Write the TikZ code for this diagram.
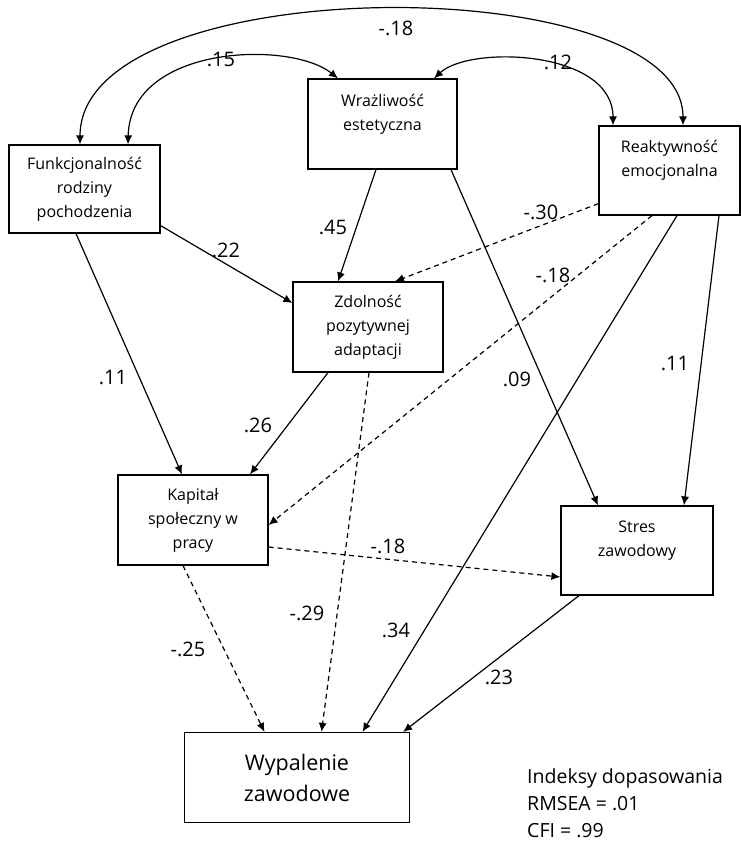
\documentclass[tikz,border=0pt]{standalone}
\usepackage{fontspec}
\setmainfont{Open Sans}
\usetikzlibrary{arrows.meta}

\tikzset{
  box/.style={draw, line width=1.2pt, align=center, inner sep=0pt, font=\fontsize{16}{24}\selectfont},
  arr/.style={line width=1.2pt, -{Latex[length=9pt,width=8pt]}},
  darr/.style={arr, dash pattern=on 5pt off 4pt},
  corr/.style={line width=1.2pt, {Latex[length=9pt,width=8pt]}-{Latex[length=9pt,width=8pt]}},
  coef/.style={font=\fontsize{20}{22}\selectfont, inner sep=0pt},
}

\begin{document}
\begin{tikzpicture}[x=1pt,y=1pt]
			%					\draw[help lines](0,0)grid(741,-846);
			\useasboundingbox (0,0) rectangle (741,-846);
			
			\node[box, minimum width=151pt, minimum height=88pt] (fam) at (84.5,-189) {Funkcjonalność\\rodziny\\pochodzenia};
			\node[box, minimum width=149pt, minimum height=90pt] (wra) at (382.5,-124) {Wrażliwość\\estetyczna\\\mbox{}};
			\node[box, minimum width=141pt, minimum height=89pt] (rea) at (669.5,-170.5) {Reaktywność\\emocjonalna\\\mbox{}};
			\node[box, minimum width=150pt, minimum height=90pt] (zdo) at (368,-327) {Zdolność\\pozytywnej\\adaptacji};
			\node[box, minimum width=150pt, minimum height=90pt] (kap) at (193,-520) {Kapitał\\społeczny w\\pracy};
			\node[box, minimum width=152pt, minimum height=89pt] (str) at (637,-550.5) {Stres\\zawodowy\\\mbox{}};
			\node[box, minimum width=225pt, minimum height=90pt, font=\fontsize{21.5}{31}\selectfont] (wyp) at (297,-777.5) {Wypalenie\\zawodowe};
			
			% correlations
			\draw[corr] ([xshift=-4.5pt]fam.north) .. controls (80,32) and (683,32) .. ([xshift=13.5pt]rea.north);
			\draw[corr] ([xshift=43.5pt]fam.north) .. controls (130,-45) and (290,-40) .. ([xshift=-44.5pt]wra.north);
			\draw[corr] ([xshift=51.5pt]wra.north) .. controls (470,-45) and (613,-50) .. ([xshift=-56.5pt]rea.north);
			\node[coef] (c1) at (396,-28) {-.18};
			\node[coef] (c2) at (221,-60) {.15};
			\node[coef] (c3) at (558,-62) {.12};
			
			% paths
			\draw[arr] ([xshift=-6.5pt]wra.south) -- ([xshift=-30pt]zdo.north);
			\node[coef] (c4) at (333,-227) {.45};
			
			\draw[arr] ([yshift=8pt]fam.south east) -- ([yshift=24pt]zdo.west);
			\node[coef] (c5) at (226,-250) {.22};
			
			\draw[arr] ([xshift=-8.5pt]fam.south) -- ([xshift=-11pt]kap.north);
			\node[coef] (c6) at (113,-377) {.11};
			
			\draw[arr] ([xshift=-40pt]zdo.south) -- ([xshift=57pt]kap.north);
			\node[coef] (c7) at (258,-425) {.26};
			
			\draw[darr] ([xshift=1pt]zdo.south) -- ([xshift=24.5pt]wyp.north);
			\node[coef] (c8) at (307,-613) {-.29};
			
			\draw[darr] ([yshift=12pt]rea.south west) -- ([xshift=27pt]zdo.north);
			\node[coef] (c9) at (541,-212) {-.30};
			
			\draw[darr] ([xshift=-17.5pt]rea.south) -- ([yshift=-5pt]kap.east);
			\node[coef] (c10) at (553,-275) {-.18};
			
			\draw[arr] ([xshift=7.5pt]rea.south) -- ([xshift=65.5pt]wyp.north);
			\node[coef] (c11) at (396,-630) {.34};
			
			\draw[arr] ([xshift=49.5pt]rea.south) -- ([xshift=47pt]str.north);
			\node[coef] (c12) at (675,-363) {.11};
			
			\draw[arr] ([xshift=68.5pt]wra.south) -- ([xshift=-39pt]str.north);
			\node[coef] (c13) at (517,-379) {.09};
			
			\draw[darr] ([yshift=-27pt]kap.east) -- ([yshift=-26.5pt]str.west);
			\node[coef] (c14) at (388,-546) {-.18};
			
			\draw[darr] ([xshift=-10pt]kap.south) -- ([xshift=-32.5pt]wyp.north);
			\node[coef] (c15) at (188,-649) {-.25};
			
			\draw[arr] ([xshift=-58pt]str.south) -- ([xshift=-7pt]wyp.north east);
			\node[coef] (c16) at (499,-677) {.23};
			
			% fit indices
			\node[anchor=north west, align=left, inner sep=0pt, font=\fontsize{19.5}{27}\selectfont] (fit) at (527,-768) {Indeksy dopasowania\\RMSEA = .01\\CFI = .99};
			
\end{tikzpicture}
\end{document}
